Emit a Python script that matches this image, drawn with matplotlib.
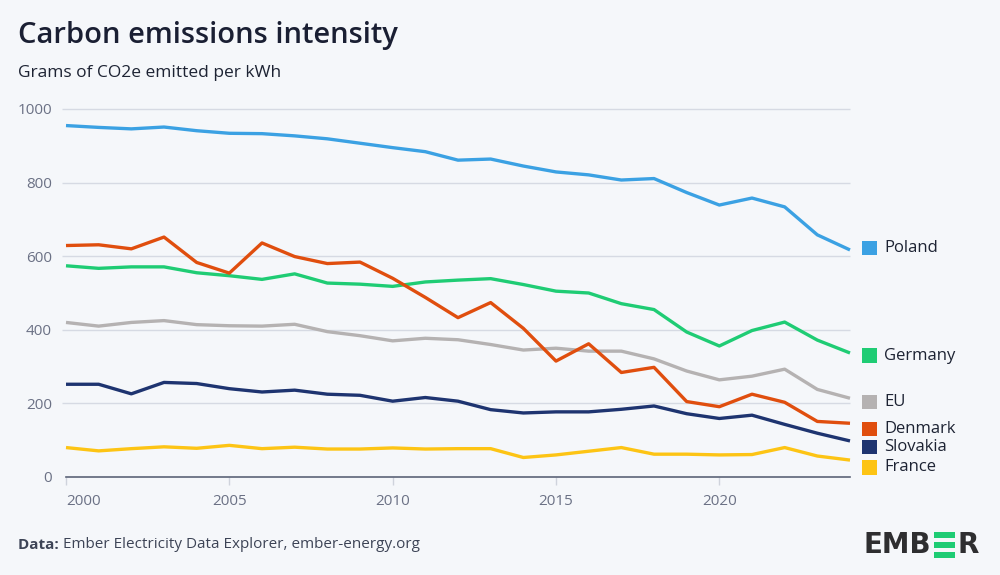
import matplotlib
matplotlib.use("Agg")
import matplotlib.pyplot as plt
from matplotlib.patches import Rectangle

years = list(range(2000, 2025))
poland = [955, 950, 946, 951, 941, 934, 933, 927, 919, 907, 895, 884, 861, 864, 845,
          829, 821, 807, 811, 773, 739, 758, 734, 658, 617]
denmark = [629, 631, 620, 652, 583, 554, 636, 599, 580, 584, 540, 488, 433, 474, 404,
           315, 362, 284, 298, 205, 191, 225, 203, 151, 146]
germany = [574, 567, 571, 571, 555, 547, 537, 552, 527, 524, 518, 530, 535, 539, 523,
           505, 500, 471, 455, 394, 356, 398, 421, 372, 337]
eu = [420, 410, 420, 425, 414, 411, 410, 415, 395, 384, 370, 377, 373, 360, 345,
      350, 342, 342, 321, 288, 264, 274, 293, 238, 214]
slovakia = [252, 252, 226, 257, 254, 240, 231, 236, 225, 222, 206, 216, 206, 183, 174,
            177, 177, 184, 193, 172, 159, 168, 143, 119, 98]
france = [80, 71, 77, 82, 78, 86, 77, 81, 76, 76, 79, 76, 77, 77, 53,
          60, 70, 80, 62, 62, 60, 61, 80, 57, 46]

series_names = ["Poland", "Germany", "EU", "Denmark", "Slovakia", "France"]
series_values = [poland, germany, eu, denmark, slovakia, france]
colors = {"Poland": "#3ba1e3", "Germany": "#1fcc74", "EU": "#b5b2b2",
          "Denmark": "#e04e0e", "Slovakia": "#1e3470", "France": "#fdc414"}
# legend label vertical positions (data units) to avoid overlap
label_y = {"Poland": 622, "Germany": 330, "EU": 203, "Denmark": 130, "Slovakia": 81, "France": 26}

yticks = [0, 200, 400, 600, 800, 1000]
xticks = [2000, 2005, 2010, 2015, 2020]

FONT = ["Open Sans", "DejaVu Sans"]
plt.rcParams["font.family"] = FONT

bg = "#f5f7fa"
fig = plt.figure(figsize=(10, 5.75), dpi=100, facecolor=bg)
ax = fig.add_axes([0.066, 1 - 477 / 575, 0.784, (477 - 109) / 575], facecolor=bg)

ax.set_xlim(2000, 2024)
ax.set_ylim(0, 1000)

for yv in yticks[1:]:
    ax.hlines(yv, 1999.87, 2024, color="#d6dae3", lw=1.0, zorder=1, clip_on=False)

order = ["France", "Slovakia", "EU", "Germany", "Denmark", "Poland"]
for name in order:
    vals = series_values[series_names.index(name)]
    ax.plot(years, vals, color=colors[name], lw=2.4, zorder=3, clip_on=False,
            solid_joinstyle="round", solid_capstyle="butt")

for s in ["top", "right", "left"]:
    ax.spines[s].set_visible(False)
ax.spines["bottom"].set_color("#5c6478")
ax.spines["bottom"].set_linewidth(1.2)

ax.set_yticks(yticks)
ax.set_yticklabels([str(v) for v in yticks])
ax.tick_params(axis="y", length=0, pad=10, labelsize=11, labelcolor="#6b7185")
ax.set_xticks(xticks)
ax.set_xticklabels([str(v) for v in xticks])
ax.tick_params(axis="x", length=6, width=1, color="#cfd3dc", pad=6, labelsize=11,
               labelcolor="#6b7185")
xl = ax.get_xticklabels()
xl[0].set_horizontalalignment("left")

# legend at line ends
for name in series_names:
    y = label_y[name]
    yfig = ax.transData.transform((2024, y))[1] / fig.bbox.height
    fig.patches.append(Rectangle((0.862, yfig - 0.0125), 0.0145, 0.025,
                                 transform=fig.transFigure, color=colors[name], lw=0))
    fig.text(0.884, yfig, name, fontsize=12, color="#1d2333", va="center", ha="left")

# titles
fig.text(0.018, 1 - 35 / 575, "Carbon emissions intensity", fontsize=21, color="#1a1f33",
         va="center", ha="left", fontweight="semibold")
fig.text(0.018, 1 - 73 / 575, "Grams of CO2e emitted per kWh", fontsize=12.5,
         color="#1d2333", va="center", ha="left")

# footer
t1 = fig.text(0.018, 1 - 545 / 575, "Data: ", fontsize=11, color="#3d4456",
              va="center", ha="left", fontweight="bold")
fig.canvas.draw()
bb = t1.get_window_extent()
fig.text(bb.x1 / fig.bbox.width, 1 - 545 / 575,
         "Ember Electricity Data Explorer, ember-energy.org", fontsize=11,
         color="#3d4456", va="center", ha="left")

# EMBER logo
logo_y = 1 - 545 / 575
tE = fig.text(0.863, logo_y, "EMB", fontsize=20, color="#2e2e30", fontweight="bold",
              va="center", ha="left", family=["DejaVu Sans"])
fig.canvas.draw()
bbE = tE.get_window_extent()
x0 = bbE.x1 / 1000 + 0.003
H = 575
top = 532
for i in range(3):
    yb = top + i * 10
    fig.patches.append(Rectangle((x0, 1 - (yb + 5.5) / H), 0.021, 5.5 / H,
                                 transform=fig.transFigure, color="#1fcc74", lw=0))
fig.text(x0 + 0.024, logo_y, "R", fontsize=20, color="#2e2e30", fontweight="bold",
         va="center", ha="left", family=["DejaVu Sans"])

fig.savefig("out.png", dpi=100, facecolor=bg)
